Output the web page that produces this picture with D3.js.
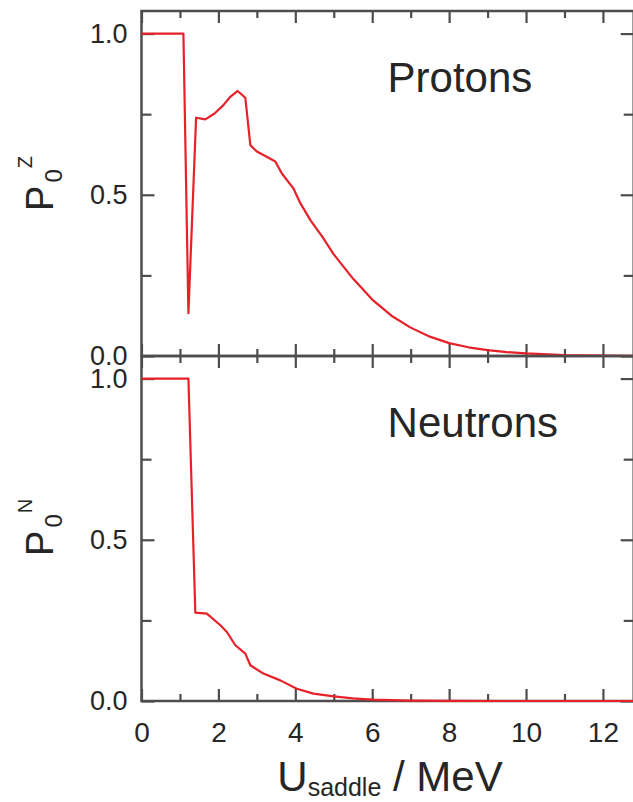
<!DOCTYPE html>
<html>
<head>
<meta charset="utf-8">
<script src="https://cdn.jsdelivr.net/npm/d3@7"></script>
<style>
  body { margin: 0; background: #fff; }
  svg { display: block; }
  text { font-family: "Liberation Sans", Arial, sans-serif; fill: #262626; }
</style>
</head>
<body>
<svg id="chart" width="633" height="802"></svg>
<script>
// Excitation energy at the saddle (MeV) and survival probability of the
// ground-state pairing for protons (Z) and neutrons (N).
const protonU = [0, 1.09, 1.22, 1.42, 1.66, 1.9, 2.13, 2.31, 2.50, 2.70, 2.83, 3.0, 3.22, 3.48, 3.65, 3.95, 4.13,
                 4.4, 4.7, 5.0, 5.5, 6.0, 6.5, 7.0, 7.5, 8.0, 8.5, 9.0, 9.5, 10, 11, 12, 12.8];
const protonP = [1.0, 1.0, 0.133, 0.739, 0.734, 0.752, 0.778, 0.804, 0.822, 0.801, 0.654, 0.634, 0.62, 0.603, 0.566, 0.52, 0.474,
                 0.42, 0.37, 0.315, 0.24, 0.175, 0.125, 0.088, 0.06, 0.04, 0.027, 0.018, 0.012, 0.008, 0.003, 0.001, 0.0005];

const neutronU = [0, 1.22, 1.40, 1.70, 2.05, 2.22, 2.44, 2.70, 2.83, 3.17, 3.61, 4.04, 4.47, 5.0, 5.5, 6.0, 7.0, 8.0, 10, 12.8];
const neutronP = [1.0, 1.0, 0.274, 0.271, 0.235, 0.214, 0.173, 0.147, 0.111, 0.085, 0.064, 0.038, 0.023, 0.0146, 0.008, 0.004, 0.001, 0.0003, 0, 0];

const xMajorTicks = [0, 2, 4, 6, 8, 10, 12];
const xMinorTicks = [1, 3, 5, 7, 9, 11];
const yMajorTicks = [0, 0.5, 1.0];
const yMinorTicks = [0.25, 0.75];
const yTickLabels = ["0.0", "0.5", "1.0"];

const panels = [
  { name: "Protons", sup: "Z", u: protonU, p: protonP, top: 11, bottom: 356 },
  { name: "Neutrons", sup: "N", u: neutronU, p: neutronP, top: 356, bottom: 701 }
];

const svg = d3.select("#chart");
const left = 141.5, right = 633.7;
const x = d3.scaleLinear().domain([0, 12.8]).range([left, right]);

const frameColor = "#4d4d4d";
const curveColor = "#e62129";

panels.forEach((pn, i) => {
  const y = d3.scaleLinear().domain([0, 1.07]).range([pn.bottom, pn.top]);
  const g = svg.append("g");

  // tick marks on all four sides, pointing inwards
  const tickAxes = [
    [d3.axisBottom(x), 0, pn.top, xMajorTicks, 12],
    [d3.axisBottom(x), 0, pn.top, xMinorTicks, 7],
    [d3.axisTop(x), 0, pn.bottom, xMajorTicks, 12],
    [d3.axisTop(x), 0, pn.bottom, xMinorTicks, 7],
    [d3.axisRight(y), left, 0, yMajorTicks, 13],
    [d3.axisRight(y), left, 0, yMinorTicks, 10],
    [d3.axisLeft(y), right, 0, yMajorTicks, 13],
    [d3.axisLeft(y), right, 0, yMinorTicks, 10]
  ];
  tickAxes.forEach(([ax, tx, ty, vals, size]) => {
    const a = g.append("g")
      .attr("transform", `translate(${tx},${ty})`)
      .call(ax.tickValues(vals).tickSize(size).tickSizeOuter(0).tickFormat(""));
    a.select(".domain").remove();
    a.selectAll("line").attr("stroke", frameColor).attr("stroke-width", 2.2);
  });

  // y tick labels
  const yl = g.append("g")
    .attr("transform", `translate(${left},0)`)
    .call(d3.axisLeft(y).tickValues(yMajorTicks).tickSize(0).tickPadding(14)
      .tickFormat((d, k) => yTickLabels[k]));
  yl.select(".domain").remove();
  yl.selectAll("text").attr("font-size", 27).attr("fill", "#262626")
    .attr("font-family", '"Liberation Sans", Arial, sans-serif');

  // frame
  g.append("rect")
    .attr("x", left).attr("y", pn.top)
    .attr("width", right - left).attr("height", pn.bottom - pn.top)
    .attr("fill", "none").attr("stroke", frameColor).attr("stroke-width", 2.5);

  // curve
  const line = d3.line().x((d, k) => x(pn.u[k])).y(d => y(d));
  g.append("path")
    .datum(pn.p)
    .attr("d", line)
    .attr("fill", "none")
    .attr("stroke", curveColor)
    .attr("stroke-width", 2.2)
    .attr("stroke-linejoin", "round");

  // panel title
  g.append("text")
    .attr("x", x(6.4)).attr("y", y(0.82))
    .attr("font-size", 42)
    .text(pn.name);

  // y-axis title P_0^Z / P_0^N
  const yt = g.append("text")
    .attr("transform", `translate(53,${y(0.45)}) rotate(-90)`)
    .attr("font-size", 38);
  yt.append("tspan").text("P");
  yt.append("tspan").attr("font-size", 24).attr("dx", 3).attr("dy", 9).text("0");
  yt.append("tspan").attr("font-size", 20).attr("dx", 1).attr("dy", -30).text(pn.sup);
});

// x tick labels under the lower panel
const xl = svg.append("g")
  .attr("transform", "translate(0,701)")
  .call(d3.axisBottom(x).tickValues(xMajorTicks).tickSize(0).tickPadding(21));
xl.select(".domain").remove();
xl.selectAll("text").attr("font-size", 28).attr("fill", "#262626")
  .attr("font-family", '"Liberation Sans", Arial, sans-serif');

// x-axis title
const xt = svg.append("text")
  .attr("x", 390).attr("y", 791)
  .attr("text-anchor", "middle")
  .attr("font-size", 42);
xt.append("tspan").text("U");
xt.append("tspan").attr("font-size", 25).attr("dy", 5).text("saddle");
xt.append("tspan").attr("dy", -5).text(" / MeV");
</script>
</body>
</html>
